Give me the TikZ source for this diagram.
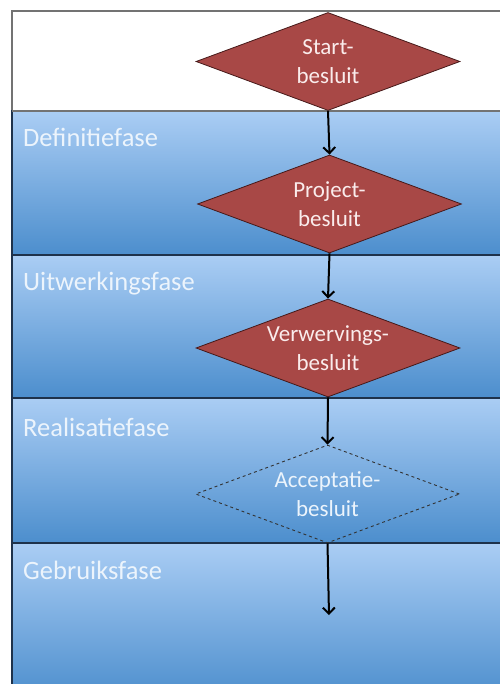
\documentclass[tikz,border=0pt]{standalone}
\usepackage{fontspec}
\setmainfont{Carlito}
\usetikzlibrary{shapes.geometric,arrows.meta}
\definecolor{bandtop}{RGB}{170,205,244}
\definecolor{bandbot}{RGB}{76,142,205}
\definecolor{bandline}{RGB}{30,50,75}
\definecolor{decfill}{RGB}{168,72,70}
\definecolor{decline}{RGB}{70,25,25}
\definecolor{txt}{RGB}{236,244,252}
\definecolor{dtxt}{RGB}{250,236,236}
\tikzset{
  band/.style={top color=bandtop, bottom color=bandbot, draw=bandline, line width=1.2pt},
  phase/.style={anchor=base west, text=txt, font=\fontsize{26.5}{30}\selectfont, inner sep=0pt},
  decision/.style={diamond, shape aspect=2.69, minimum width=264pt, minimum height=98pt, inner sep=-4pt,
    align=center, font=\fontsize{23}{29}\selectfont},
  made/.style={decision, text=dtxt, fill=decfill, draw=decline, line width=0.8pt},
  pending/.style={decision, text=txt, draw=black!80, dashed, line width=0.9pt},
  flow/.style={line width=2pt, -{Straight Barb[length=6pt,width=12pt,line width=2pt]}}
}
\begin{document}
\begin{tikzpicture}[x=1pt,y=-1pt]
\useasboundingbox (0,0) rectangle (499,684);
% white top band
\draw[draw=black!55, line width=1.2pt, fill=white] (12,11) rectangle (510,111);
% phase bands
\draw[band] (12,111) rectangle (510,255);
\draw[band] (12,255) rectangle (510,398);
\draw[band] (12,398) rectangle (510,543);
\draw[band] (12,543) rectangle (510,700);
\draw[draw=black!55, line width=1.2pt] (12,11) -- (510,11);
\draw[draw=black!55, line width=1.2pt] (12,111) -- (510,111);
% phase labels
\node[phase] (def) at (23,147) {Definitiefase};
\node[phase] (uit) at (23,290) {Uitwerkingsfase};
\node[phase] (rea) at (23,436) {Realisatiefase};
\node[phase] (geb) at (23,579) {Gebruiksfase};
% decisions
\node[made] (start) at (328,61.5) {Start-\\besluit};
\node[made] (proj) at (329.5,204) {Project-\\besluit};
\node[made] (verw) at (328,348) {Verwervings-\\besluit};
\node[pending] (acc) at (327.5,494) {Acceptatie-\\besluit};
\coordinate (end) at (329,615);
% connectors
\draw[flow] (start.south) -- (proj.north);
\draw[flow] (proj.south) -- (verw.north);
\draw[flow] (verw.south) -- (acc.north);
\draw[flow] (acc.south) -- (end);
\end{tikzpicture}
\end{document}
